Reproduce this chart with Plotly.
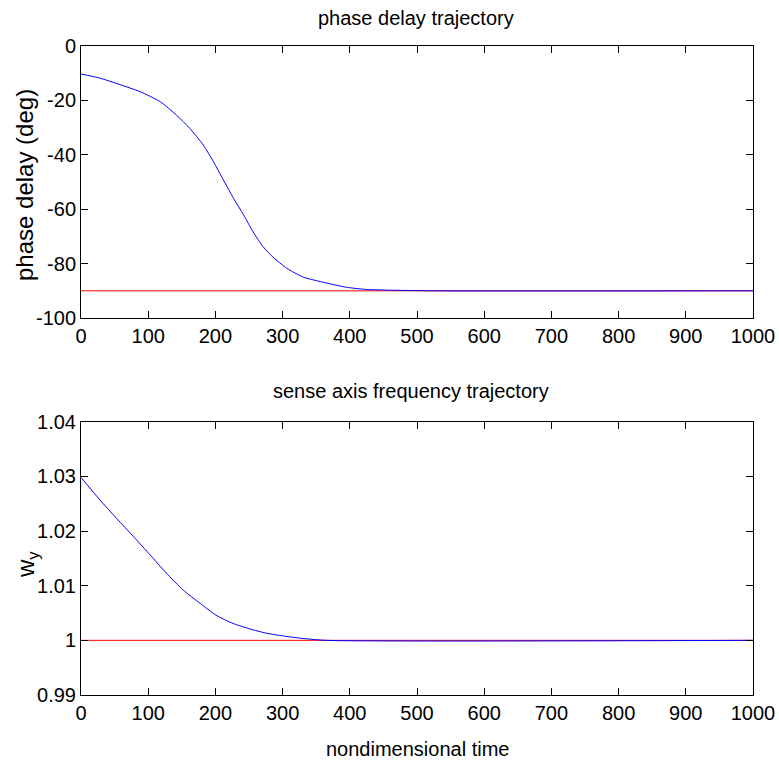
import plotly.graph_objects as go

# ---- data ----
t_phase = [0, 28, 58, 88, 118, 142, 162, 182, 197, 212, 227, 242, 256, 271, 286, 306, 331, 356, 395, 425, 520, 1000]
phase = [-10.3, -11.8, -14.2, -16.8, -20.5, -25.4, -30.3, -36.4, -42.5, -49.3, -56.0, -62.1, -68.3, -73.8,
         -77.7, -81.7, -85.0, -86.6, -88.7, -89.5, -90, -90]
t_ref = [0, 1000]
phase_ref = [-90, -90]

t_freq = [0, 28, 53, 78, 103, 127, 152, 177, 201, 226, 251, 276, 301, 326, 365, 1000]
wy = [1.0298, 1.0257, 1.0223, 1.0190, 1.0156, 1.0123, 1.0092, 1.0068, 1.0046, 1.0031, 1.0021, 1.0013,
      1.0008, 1.0004, 1.0, 1.0]
wy_ref = [1.0, 1.0]

x_ticks = [0, 100, 200, 300, 400, 500, 600, 700, 800, 900, 1000]
x_ticktext = [str(v) for v in x_ticks]
phase_ticks = [0, -20, -40, -60, -80, -100]
phase_ticktext = ["0", "-20", "-40", "-60", "-80", "-100"]
wy_ticks = [0.99, 1.0, 1.01, 1.02, 1.03, 1.04]
wy_ticktext = ["0.99", "1", "1.01", "1.02", "1.03", "1.04"]

title_top = "phase delay trajectory"
title_bottom = "sense axis frequency trajectory"
ylabel_top = "phase delay (deg)"
ylabel_bottom = "w<sub>y</sub>"
xlabel = "nondimensional time"

FONT = "Liberation Sans, Arial, sans-serif"
FS = 20
FS_Y = 24

fig = go.Figure()
fig.add_trace(go.Scatter(x=t_ref, y=phase_ref, mode="lines", line=dict(color="#ff0000", width=1),
                         xaxis="x", yaxis="y", showlegend=False))
fig.add_trace(go.Scatter(x=t_phase, y=phase, mode="lines",
                         line=dict(color="#0000ff", width=1, shape="spline", smoothing=0.6),
                         xaxis="x", yaxis="y", showlegend=False))
fig.add_trace(go.Scatter(x=t_ref, y=wy_ref, mode="lines", line=dict(color="#ff0000", width=1),
                         xaxis="x2", yaxis="y2", showlegend=False))
fig.add_trace(go.Scatter(x=t_freq, y=wy, mode="lines",
                         line=dict(color="#0000ff", width=1, shape="spline", smoothing=0.6),
                         xaxis="x2", yaxis="y2", showlegend=False))

axis_common = dict(showline=True, linecolor="black", linewidth=1, mirror="ticks", ticks="inside",
                   ticklen=7, tickcolor="black", tickwidth=1, showgrid=False, zeroline=False,
                   automargin=False, tickfont=dict(family=FONT, size=FS, color="black"))

L, R, T, B = 81, 26, 46, 68
W, H = 779, 763
ph = H - T - B
top_dom = [(H - B - 318) / ph, 1.0]
bot_dom = [0.0, (H - B - 421.7) / ph]

fig.update_layout(
    autosize=True,
    margin=dict(l=L, r=R, t=T, b=B, autoexpand=False),
    paper_bgcolor="white", plot_bgcolor="white",
    font=dict(family=FONT, size=FS, color="black"),
    xaxis=dict(domain=[0, 1], range=[0, 1000], anchor="y", tickvals=x_ticks, ticktext=x_ticktext, **axis_common),
    yaxis=dict(domain=top_dom, range=[-100, 0], anchor="x", tickvals=phase_ticks, ticktext=phase_ticktext,
               **axis_common),
    xaxis2=dict(domain=[0, 1], range=[0, 1000], anchor="y2", tickvals=x_ticks, ticktext=x_ticktext,
                **axis_common),
    yaxis2=dict(domain=bot_dom, range=[0.99, 1.04], anchor="x2", tickvals=wy_ticks, ticktext=wy_ticktext,
                **axis_common),
)

pw = W - L - R


def px_x(x):
    return (x - L) / pw


def px_y(y):
    return (H - B - y) / ph


ann_font = dict(family=FONT, size=FS, color="black")
ylab_font = dict(family=FONT, size=FS_Y, color="black")
fig.add_annotation(text=title_top, xref="paper", yref="paper", x=px_x(416), y=px_y(18),
                   xanchor="center", yanchor="middle", showarrow=False, font=ann_font)
fig.add_annotation(text=title_bottom, xref="paper", yref="paper", x=px_x(411), y=px_y(391),
                   xanchor="center", yanchor="middle", showarrow=False, font=ann_font)
fig.add_annotation(text=xlabel, xref="paper", yref="paper", x=px_x(417), y=px_y(749),
                   xanchor="center", yanchor="middle", showarrow=False, font=ann_font)
fig.add_annotation(text=ylabel_top, xref="paper", yref="paper", x=px_x(24), y=px_y(185),
                   xanchor="center", yanchor="middle", textangle=-90, showarrow=False, font=ylab_font)
fig.add_annotation(text=ylabel_bottom, xref="paper", yref="paper", x=px_x(27), y=px_y(564),
                   xanchor="center", yanchor="middle", textangle=-90, showarrow=False, font=ylab_font)

fig.write_html(
    "out.html",
    config={"displayModeBar": False, "responsive": True},
    default_width="100vw",
    default_height="100vh",
    post_script=("document.body.style.margin='0px';"
                 "document.body.style.overflow='hidden';"
                 "document.documentElement.style.overflow='hidden';"),
)
